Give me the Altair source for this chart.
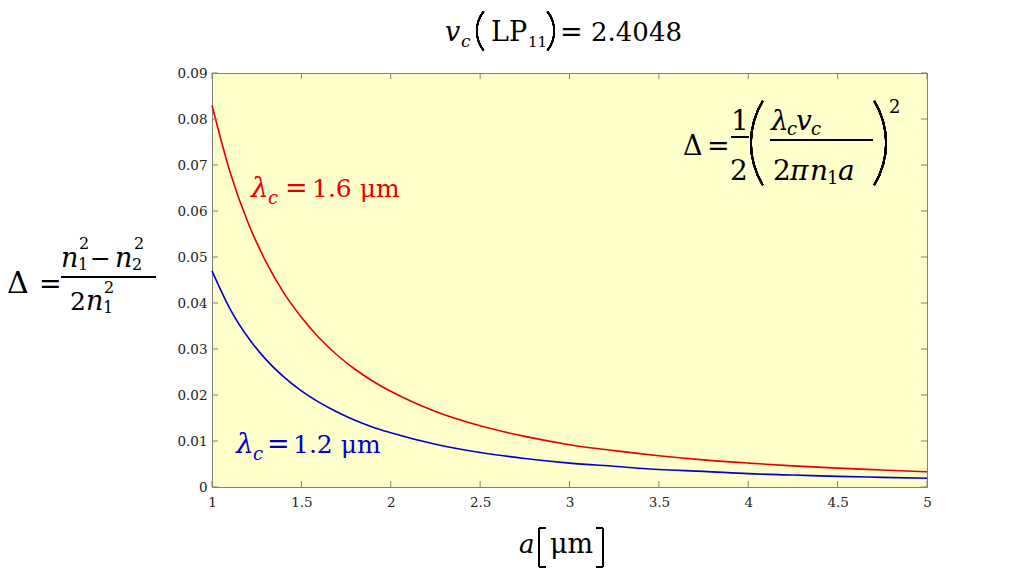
import altair as alt
import pandas as pd
import math

# ---------------- data ----------------
a_um = [1.0, 1.1, 1.2, 1.3, 1.4, 1.5, 1.6, 1.7, 1.8, 1.9, 2.0,
        2.25, 2.5, 2.75, 3.0, 3.25, 3.5, 3.75, 4.0, 4.25, 4.5, 4.75, 5.0]
delta_16 = [0.0830, 0.0686, 0.0576, 0.0491, 0.0423, 0.0369, 0.0324, 0.0287, 0.0256, 0.0230, 0.0208,
            0.0164, 0.0133, 0.0110, 0.0092, 0.0079, 0.0068, 0.0059, 0.0052, 0.0046, 0.0041, 0.0037, 0.0033]
delta_12 = [0.0470, 0.0388, 0.0326, 0.0278, 0.0240, 0.0209, 0.0184, 0.0163, 0.0145, 0.0130, 0.0118,
            0.0093, 0.0075, 0.0062, 0.0052, 0.0045, 0.0038, 0.0034, 0.0029, 0.0026, 0.0023, 0.0021, 0.0019]
x_ticks = [1, 1.5, 2, 2.5, 3, 3.5, 4, 4.5, 5]
y_ticks = [0, 0.01, 0.02, 0.03, 0.04, 0.05, 0.06, 0.07, 0.08, 0.09]

# ---------------- layout ----------------
W, H = 715, 414
L, T = 212, 73
RED = "#E60000"
BLUE = "#0000CD"
AXC = "#7f7f7f"
FONT = "DejaVu Serif"
K = "black"

df = pd.DataFrame({"a": a_um * 2,
                   "d": delta_16 + delta_12,
                   "s": ["1.6"] * len(a_um) + ["1.2"] * len(a_um)})

xs = alt.Scale(domain=[1, 5], nice=False, zero=False)
ys = alt.Scale(domain=[0, 0.09], nice=False)

lines = alt.Chart(df).mark_line(strokeWidth=1.6, interpolate="monotone").encode(
    x=alt.X("a:Q", scale=xs,
            axis=alt.Axis(values=x_ticks, format="~g", ticks=False, domain=False, grid=False,
                          labelFont=FONT, labelFontSize=13.5, labelColor="#222",
                          labelPadding=8, labelFlush=False, labelOverlap=False, title=None)),
    y=alt.Y("d:Q", scale=ys,
            axis=alt.Axis(values=y_ticks, format="~g", ticks=False, domain=False, grid=False,
                          labelFont=FONT, labelFontSize=13.5, labelColor="#222",
                          labelPadding=5, labelFlush=False, labelOverlap=False, title=None)),
    color=alt.Color("s:N", scale=alt.Scale(domain=["1.6", "1.2"], range=[RED, BLUE]), legend=None),
)

xt = pd.DataFrame({"v": x_ticks})
yt = pd.DataFrame({"v": y_ticks})
tk = dict(color=AXC, strokeWidth=1)
ticks = [
    alt.Chart(xt).mark_rule(**tk).encode(x=alt.X("v:Q", scale=xs), y=alt.value(H), y2=alt.value(H - 6)),
    alt.Chart(xt).mark_rule(**tk).encode(x=alt.X("v:Q", scale=xs), y=alt.value(0), y2=alt.value(6)),
    alt.Chart(yt).mark_rule(**tk).encode(y=alt.Y("v:Q", scale=ys), x=alt.value(0), x2=alt.value(6)),
    alt.Chart(yt).mark_rule(**tk).encode(y=alt.Y("v:Q", scale=ys), x=alt.value(W), x2=alt.value(W - 6)),
]

# text pieces: (text, x_abs, baseline_abs, size, italic, color)
pieces = [
    # title  v_c (LP11) = 2.4048
    ("v", 445, 41, 27, True, K), ("c", 461, 47, 17, True, K),
    ("LP", 491, 41, 27, False, K), ("11", 528, 47, 15, False, K),
    ("=", 560, 41, 27, False, K), ("2.4048", 591, 41, 26, False, K),
    # y label formula
    ("Δ", 7, 293, 30, False, K), ("=", 39, 293, 27, False, K),
    ("n", 61, 267, 27, True, K), ("2", 79, 249, 16, False, K), ("1", 78, 270, 16, False, K),
    ("−", 90, 267, 25, False, K),
    ("n", 115, 267, 27, True, K), ("2", 134, 249, 16, False, K), ("2", 132, 270, 16, False, K),
    ("2", 70, 310, 25, False, K), ("n", 86, 310, 27, True, K),
    ("2", 104, 293, 16, False, K), ("1", 103, 313, 16, False, K),
    # x label
    ("a", 519, 553, 26, True, K), ("μm", 550, 553, 27, False, K),
    # right formula
    ("Δ", 683, 155, 27, False, K), ("=", 707, 155, 27, False, K),
    ("1", 731, 130, 28, False, K), ("2", 730, 180, 28, False, K),
    ("λ", 771, 130, 28, True, K), ("c", 787, 135, 18, True, K),
    ("v", 796, 130, 28, True, K), ("c", 811, 135, 18, True, K),
    ("2", 773, 180, 28, False, K), ("π", 790, 180, 28, True, K),
    ("n", 810, 180, 28, True, K), ("1", 827, 184, 18, False, K), ("a", 838, 180, 28, True, K),
    ("2", 889, 113, 18, False, K),
    # curve labels
    ("λ", 251, 197, 28, True, RED), ("c", 268, 204, 18, True, RED),
    ("=", 285, 197, 27, False, RED), ("1.6 μm", 312, 197, 25, False, RED),
    ("λ", 236, 453, 28, True, BLUE), ("c", 253, 460, 18, True, BLUE),
    ("=", 267, 453, 27, False, BLUE), ("1.2 μm", 293, 453, 25, False, BLUE),
]
tdf = pd.DataFrame(pieces, columns=["t", "x", "y", "size", "it", "col"])
tdf["px"] = tdf["x"] - L
tdf["py"] = tdf["y"] - T


def text_layer(italic):
    sub = tdf[tdf["it"] == italic]
    return alt.Chart(sub).mark_text(font=FONT, fontStyle="italic" if italic else "normal",
                                    align="left", baseline="alphabetic").encode(
        x=alt.X("px:Q", scale=None, axis=None),
        y=alt.Y("py:Q", scale=None, axis=None),
        text="t:N",
        size=alt.Size("size:Q", scale=None, legend=None),
        color=alt.Color("col:N", scale=None, legend=None),
    )


# straight strokes: fraction bars and the square brackets of the x label
hrules = [(61, 156, 277, 1.3), (731, 749, 137, 1.3), (770, 873, 140, 1.3),
          (539, 546, 528, 1.5), (539, 546, 567, 1.5), (596, 603, 528, 1.5), (596, 603, 567, 1.5)]
vrules = [(539, 528, 567), (603, 528, 567)]
strokes = [
    alt.Chart(xt).mark_rule(color=K, strokeWidth=w).encode(
        x=alt.value(x1 - L), x2=alt.value(x2 - L), y=alt.value(yy - T))
    for (x1, x2, yy, w) in hrules
] + [
    alt.Chart(xt).mark_rule(color=K, strokeWidth=1.6).encode(
        x=alt.value(xx - L), y=alt.value(y1 - T), y2=alt.value(y2 - T))
    for (xx, y1, y2) in vrules
]


# parentheses drawn as thin circular arcs
def paren(edge_x, cy, half_h, bulge, left, w=1.8):
    R = (half_h ** 2 + bulge ** 2) / (2 * bulge)
    hw = math.asin(half_h / R)
    mid = 1.5 * math.pi if left else 0.5 * math.pi
    cx = edge_x + R if left else edge_x - R
    return alt.Chart(xt).mark_arc(radius=R, radius2=R - w, theta=mid - hw, theta2=mid + hw,
                                  color=K).encode(x=alt.value(cx - L), y=alt.value(cy - T))


parens = [
    paren(750, 143, 42.5, 12, True), paren(887, 143, 42.5, 12, False),
    paren(476, 31, 20, 7, True, 1.6), paren(555, 31, 20, 7, False, 1.6),
]

chart = alt.layer(lines, *ticks, *strokes, *parens, text_layer(False), text_layer(True)).resolve_scale(
    x="shared", y="shared"
).properties(
    width=W, height=H,
    autosize=alt.AutoSizeParams(type="none"),
    padding={"left": L, "top": T, "right": 1024 - L - W, "bottom": 576 - T - H},
    background="white",
).configure_view(stroke=AXC, strokeWidth=1, fill="#FFFFCC")

chart.save("out.html", embed_options={"renderer": "svg", "actions": False})
